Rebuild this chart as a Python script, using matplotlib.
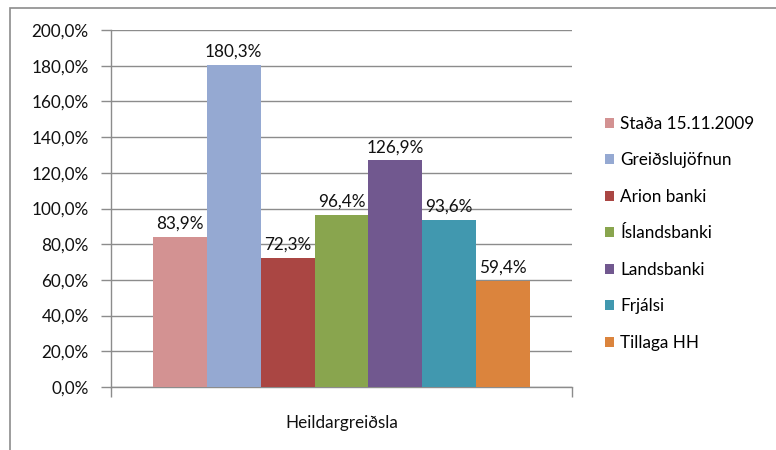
import matplotlib
matplotlib.use("Agg")
import matplotlib.pyplot as plt
from matplotlib.patches import Patch, Rectangle

plt.rcParams["font.family"] = ["Lato", "DejaVu Sans"]

# ---------------------------------------------------------------
# Data
# ---------------------------------------------------------------
category = "Heildargreiðsla"
series = ["Staða 15.11.2009", "Greiðslujöfnun", "Arion banki",
          "Íslandsbanki", "Landsbanki", "Frjálsi", "Tillaga HH"]
values = [83.9, 180.3, 72.3, 96.4, 126.9, 93.6, 59.4]
colors = ["#D39292", "#95A9D2", "#AA4643", "#89A54E",
          "#71588F", "#4198AF", "#DB843D"]
yticks = [0, 20, 40, 60, 80, 100, 120, 140, 160, 180, 200]


def pct(v):
    return f"{v:.1f}%".replace(".", ",")


W, H = 776, 450
fig = plt.figure(figsize=(W / 100, H / 100), dpi=100)
ax = fig.add_axes([111 / W, 1 - 387 / H, (572 - 111) / W, (387 - 30) / H])

grey = "#8C8C8C"
txt = "#111111"
fs = 12.3

n = len(values)
width = 0.818 / n
for i, (name, val, col) in enumerate(zip(series, values, colors)):
    x = 0.5 + (i - (n - 1) / 2) * width
    ax.bar(x, val, width=width, color=col, zorder=3, label=name)
    ax.text(x, val + 3, pct(val), ha="center", va="bottom",
            fontsize=fs, color=txt, zorder=4)

ax.set_xlim(0, 1)
ax.set_ylim(0, 200)
ax.set_yticks(yticks)
ax.set_yticklabels([pct(v) for v in yticks], fontsize=fs, color=txt)
ax.yaxis.grid(True, color=grey, linewidth=1, zorder=0)
ax.set_axisbelow(True)

ax.set_xticks([0, 1])
ax.set_xticklabels(["", ""])
ax.set_xticks([0.5], [category], minor=True)
ax.tick_params(axis="x", which="minor", length=0, pad=20, labelsize=fs,
               labelcolor=txt)
ax.tick_params(axis="both", which="major", length=7, color=grey, width=1)
ax.tick_params(axis="y", pad=9)

for side in ["top", "right"]:
    ax.spines[side].set_visible(False)
for side in ["left", "bottom"]:
    ax.spines[side].set_color(grey)
    ax.spines[side].set_linewidth(1)

# outer chart border (cut off on right and bottom)
fig.patches.append(Rectangle((10 / W, -0.1), 2, (1 - 8 / H) + 0.1,
                             transform=fig.transFigure, fill=False,
                             edgecolor=grey, linewidth=1.2))

handles = [Patch(facecolor=c, edgecolor="none") for c in colors]
fig.legend(handles, series, loc="upper left",
           bbox_to_anchor=(598 / W, 1 - 109 / H), frameon=False,
           fontsize=fs, handlelength=0.55, handleheight=0.55,
           handletextpad=0.35, labelspacing=1.2, borderaxespad=0)

fig.savefig("out.png", dpi=100)
